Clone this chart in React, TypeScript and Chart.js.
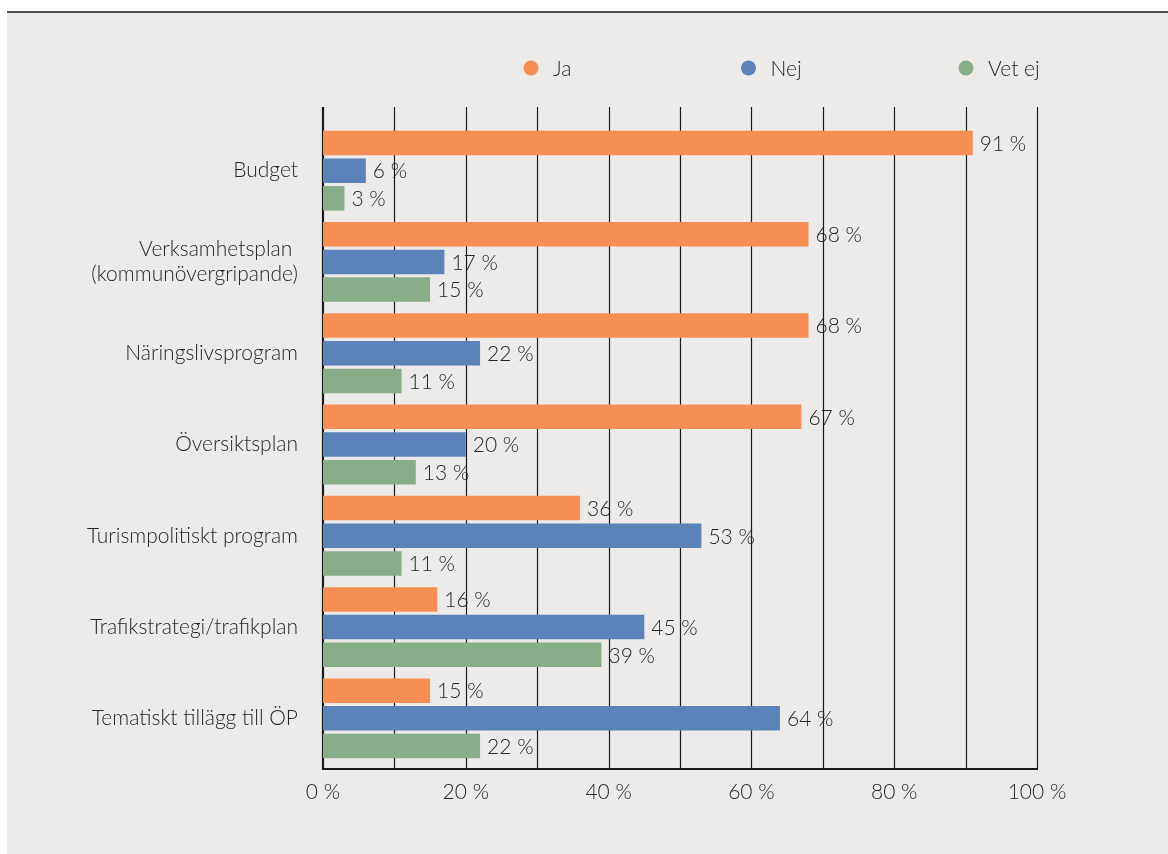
import React, { useEffect, useRef } from 'react';
import { Chart, registerables } from 'chart.js';

Chart.register(...registerables);

const categories: (string | string[])[] = [
  'Budget',
  ['Verksamhetsplan ', '(kommunövergripande)'],
  'Näringslivsprogram',
  'Översiktsplan',
  'Turismpolitiskt program',
  'Trafikstrategi/trafikplan',
  'Tematiskt tillägg till ÖP',
];
const seriesNames = ['Ja', 'Nej', 'Vet ej'];
const jaValues = [91, 68, 68, 67, 36, 16, 15];
const nejValues = [6, 17, 22, 20, 53, 45, 64];
const vetEjValues = [3, 15, 11, 13, 11, 39, 22];
const seriesColors = ['#F78F55', '#5C83B9', '#87AD89'];
const xMin = 0;
const xMax = 100;
const xLabelStep = 20;
const gridStep = 10;

const FONT = 'Lato, "Open Sans", "Noto Sans", sans-serif';
const FONT_SIZE = 21;
const FONT_WEIGHT = 300;
const TEXT = '#262626';

const gridPlugin = {
  id: 'customGrid',
  beforeDatasetsDraw(chart: any) {
    const { ctx, chartArea } = chart;
    const x = chart.scales.x;
    const top = chartArea.top - 18;
    const bottom = chartArea.bottom + 5;
    ctx.save();
    ctx.strokeStyle = '#1a1a1a';
    ctx.lineWidth = 1.2;
    for (let v = xMin + gridStep; v <= xMax; v += gridStep) {
      const px = Math.round(x.getPixelForValue(v)) + 0.5;
      ctx.beginPath();
      ctx.moveTo(px, top);
      ctx.lineTo(px, bottom);
      ctx.stroke();
    }
    const x0 = Math.round(x.getPixelForValue(xMin));
    ctx.lineWidth = 2.2;
    ctx.beginPath();
    ctx.moveTo(x0, top);
    ctx.lineTo(x0, bottom + 1);
    ctx.stroke();
    ctx.lineWidth = 2;
    ctx.beginPath();
    ctx.moveTo(x0 - 1, bottom);
    ctx.lineTo(Math.round(x.getPixelForValue(xMax)) + 1, bottom);
    ctx.stroke();
    ctx.restore();
  },
};

const valueLabelPlugin = {
  id: 'valueLabels',
  afterDatasetsDraw(chart: any) {
    const { ctx } = chart;
    ctx.save();
    ctx.font = `${FONT_WEIGHT} ${FONT_SIZE}px ${FONT}`;
    ctx.fillStyle = TEXT;
    ctx.textAlign = 'left';
    ctx.textBaseline = 'middle';
    chart.data.datasets.forEach((ds: any, di: number) => {
      const meta = chart.getDatasetMeta(di);
      meta.data.forEach((bar: any, i: number) => {
        ctx.fillText(`${ds.data[i]} %`, bar.x + 7, bar.y + 1);
      });
    });
    ctx.restore();
  },
};

const legendPlugin = {
  id: 'customLegend',
  afterDraw(chart: any) {
    const { ctx, chartArea } = chart;
    const dss = chart.data.datasets;
    const n = dss.length;
    const cy = 55;
    ctx.save();
    ctx.font = `${FONT_WEIGHT} ${FONT_SIZE}px ${FONT}`;
    ctx.textAlign = 'left';
    ctx.textBaseline = 'middle';
    dss.forEach((ds: any, i: number) => {
      const cx = chartArea.right - 71 - (n - 1 - i) * 217.5;
      ctx.fillStyle = ds.backgroundColor;
      ctx.beginPath();
      ctx.arc(cx, cy, 7.5, 0, Math.PI * 2);
      ctx.fill();
      ctx.fillStyle = TEXT;
      ctx.fillText(ds.label, cx + 22, cy + 1);
    });
    ctx.restore();
  },
};

export default function App() {
  const canvasRef = useRef<HTMLCanvasElement | null>(null);

  useEffect(() => {
    if (!canvasRef.current) return;
    const valueSets = [jaValues, nejValues, vetEjValues];
    const chart = new Chart(canvasRef.current, {
      type: 'bar',
      data: {
        labels: categories as any,
        datasets: seriesNames.map((name, i) => ({
          label: name,
          data: valueSets[i],
          backgroundColor: seriesColors[i],
          borderWidth: 0,
          barPercentage: 0.885,
          categoryPercentage: 0.91,
        })),
      },
      options: {
        indexAxis: 'y',
        animation: false,
        responsive: false,
        layout: { padding: { top: 112, right: 131, bottom: 0, left: 0 } },
        plugins: {
          legend: { display: false },
          tooltip: { enabled: false },
        },
        scales: {
          x: {
            min: xMin,
            max: xMax,
            grid: { display: false, drawTicks: false },
            border: { display: false },
            ticks: {
              stepSize: xLabelStep,
              padding: 16,
              color: TEXT,
              font: { family: FONT, size: FONT_SIZE, weight: FONT_WEIGHT },
              callback: (v: any) => `${v} %`,
            },
            afterFit: (s: any) => {
              s.height = 90;
            },
          },
          y: {
            grid: { display: false, drawTicks: false },
            border: { display: false },
            ticks: {
              padding: 25,
              color: TEXT,
              font: { family: FONT, size: FONT_SIZE, weight: FONT_WEIGHT, lineHeight: 1.2 },
            },
            afterFit: (s: any) => {
              s.width = 316;
            },
          },
        },
      } as any,
      plugins: [gridPlugin, valueLabelPlugin, legendPlugin],
    });
    return () => chart.destroy();
  }, []);

  return (
    <div
      style={{
        position: 'absolute',
        left: 7,
        top: 11,
        width: 1161,
        height: 843,
        boxSizing: 'border-box',
        background: '#ECEBE9',
        borderTop: '2px solid #4d4d4d',
      }}
    >
      <canvas ref={canvasRef} width={1161} height={841} style={{ display: 'block' }} />
    </div>
  );
}
